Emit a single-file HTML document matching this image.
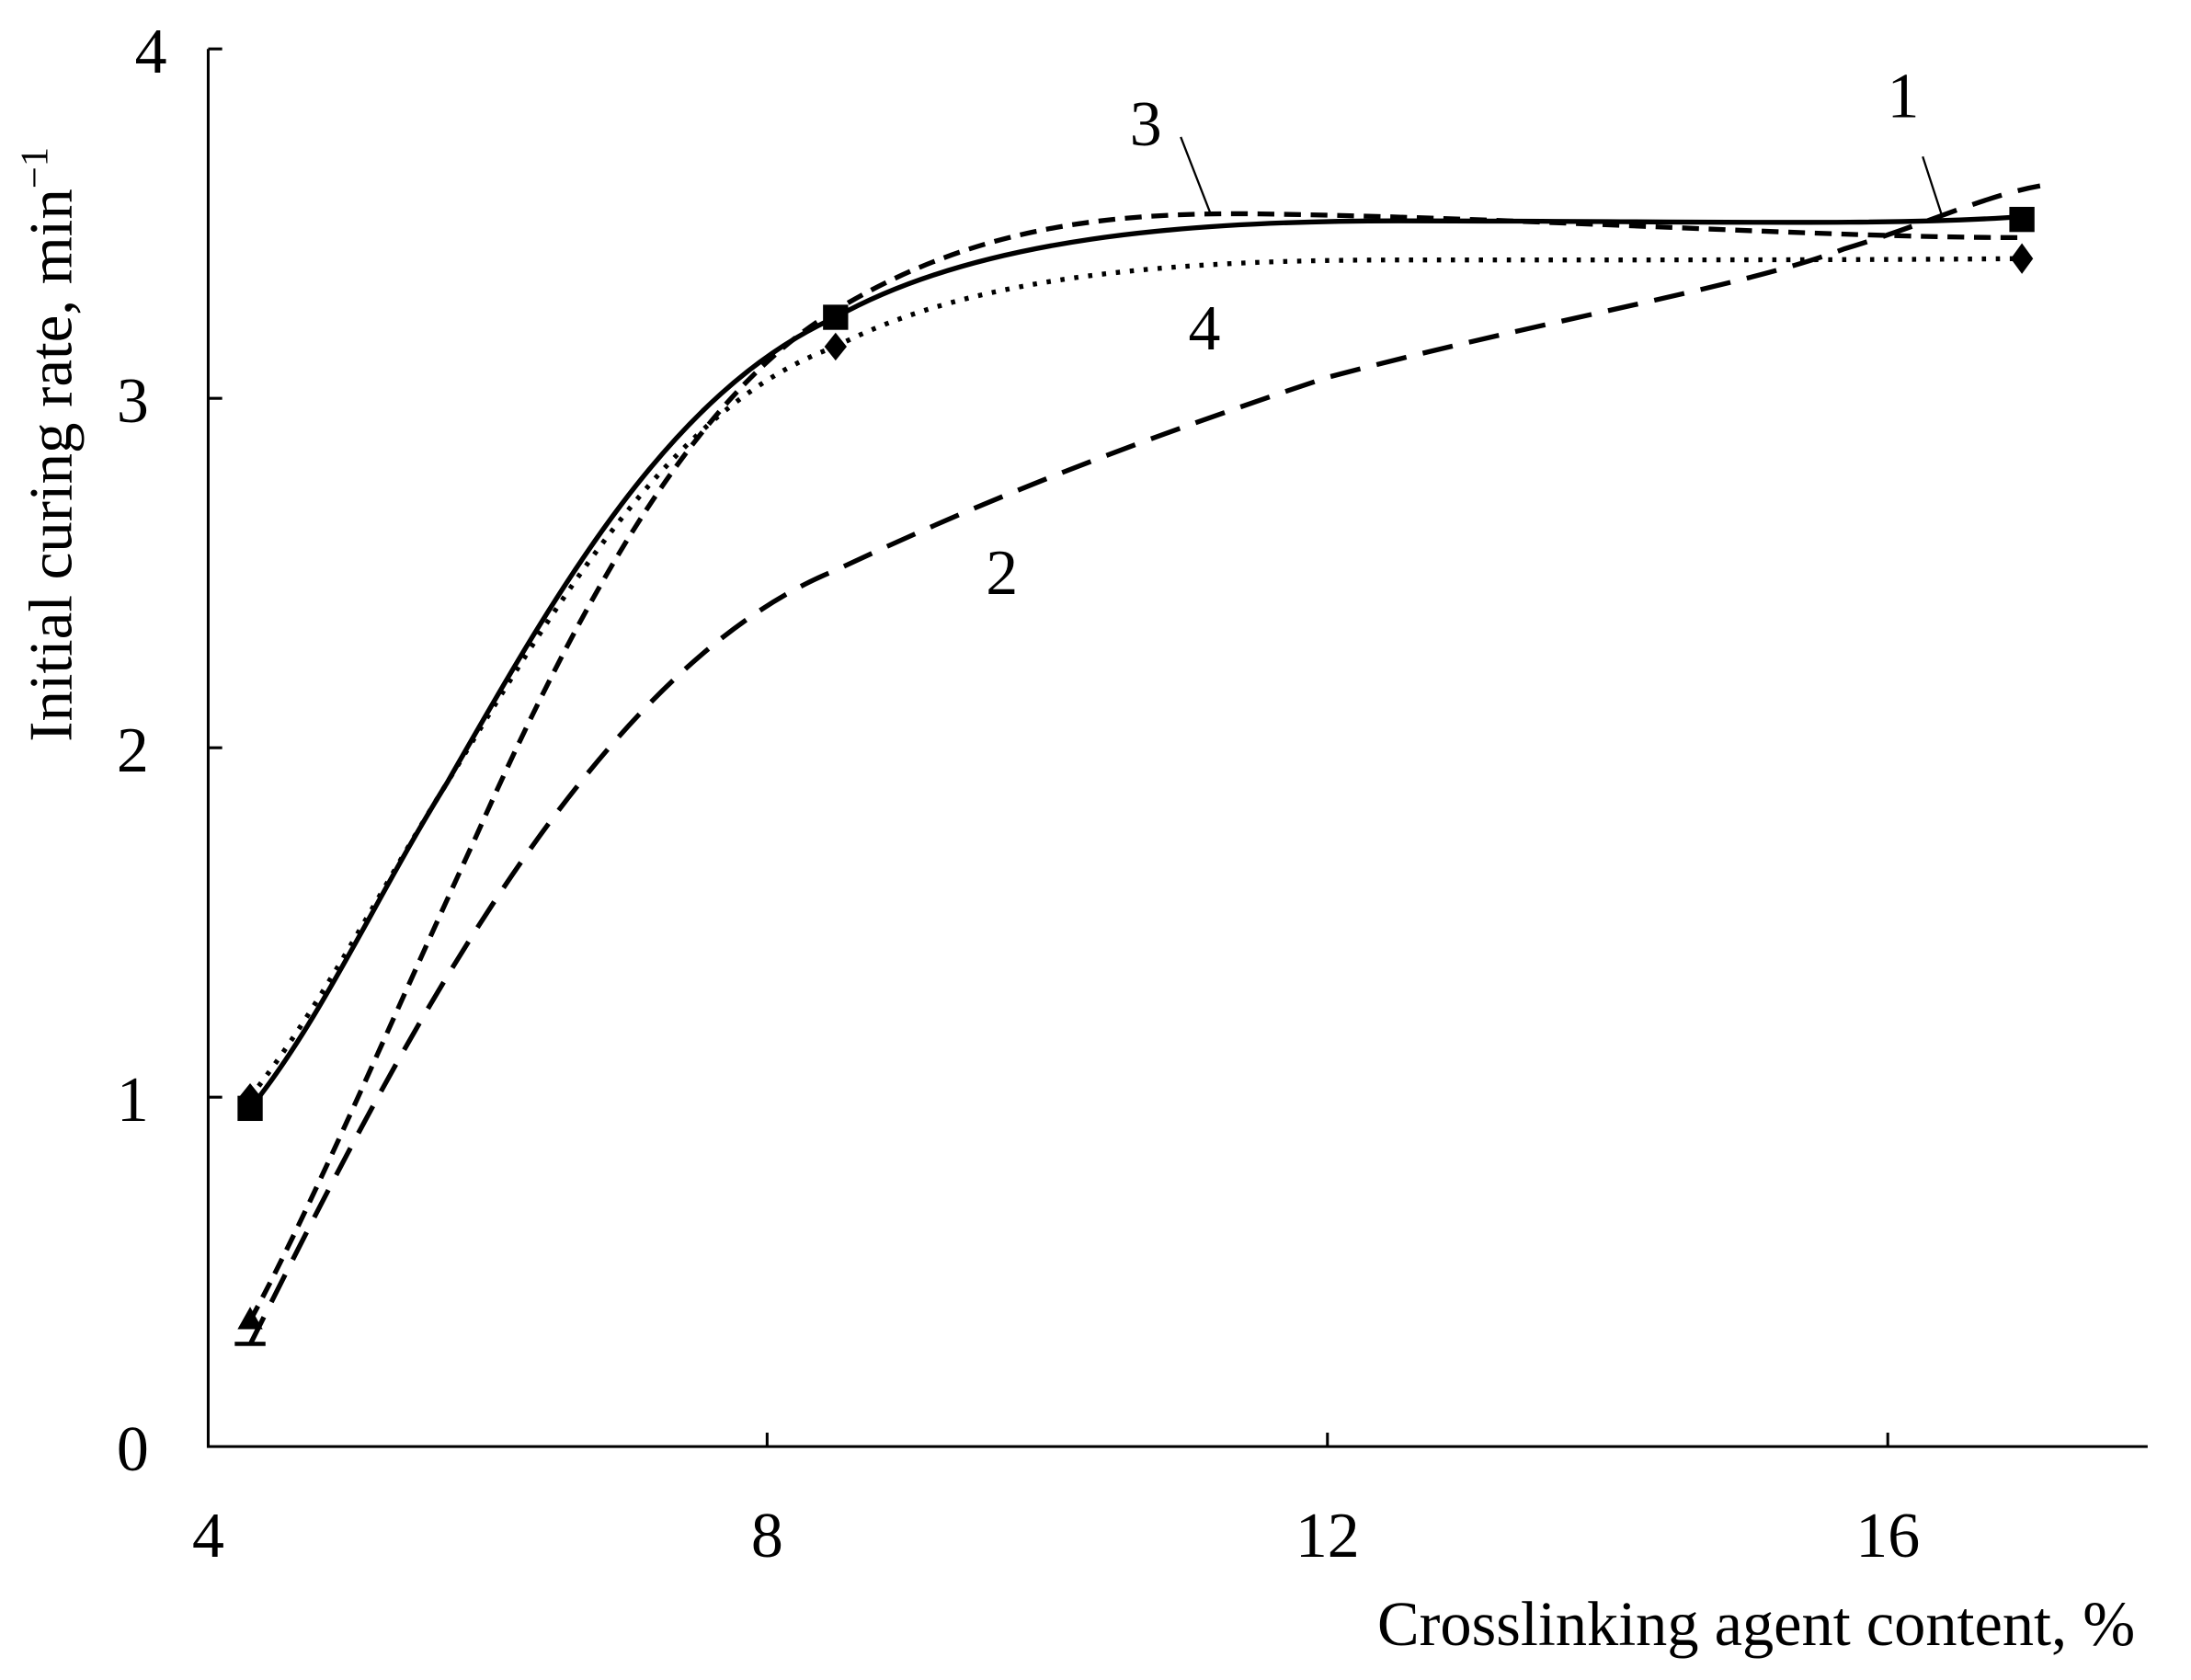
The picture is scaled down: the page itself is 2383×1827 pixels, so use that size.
<!DOCTYPE html>
<html><head><meta charset="utf-8"><style>
html,body{margin:0;padding:0;background:#fff;}
svg{display:block;}
text{font-family:"Liberation Serif",serif;fill:#000;}
</style></head><body>
<svg width="2383" height="1827" viewBox="0 0 1568 1202" preserveAspectRatio="none" xmlns="http://www.w3.org/2000/svg">
<g stroke="#000" stroke-width="2" fill="none">
<path d="M149,35 V1035 H1537"/>
<path d="M149,35 h10 M149,285 h10 M149,535 h10 M149,785 h10"/>
<path d="M549,1035 v-10 M950,1035 v-10 M1351,1035 v-10"/>
</g>
<g font-size="46">
<text x="108" y="52" text-anchor="middle">4</text>
<text x="95" y="302" text-anchor="middle">3</text>
<text x="95" y="552" text-anchor="middle">2</text>
<text x="95" y="802" text-anchor="middle">1</text>
<text x="95" y="1052" text-anchor="middle">0</text>
<text x="149" y="1114" text-anchor="middle">4</text>
<text x="549" y="1114" text-anchor="middle">8</text>
<text x="950" y="1114" text-anchor="middle">12</text>
<text x="1351" y="1114" text-anchor="middle">16</text>
<text x="1528" y="1177" text-anchor="end" font-size="45">Crosslinking agent content, %</text>
<text transform="translate(51,318) rotate(-90)" text-anchor="middle" font-size="44">Initial curing rate, min<tspan dy="-17" font-size="28">−1</tspan></text>
<text x="820" y="104" text-anchor="middle">3</text>
<text x="1362" y="84" text-anchor="middle">1</text>
<text x="862" y="250" text-anchor="middle">4</text>
<text x="717" y="425" text-anchor="middle">2</text>
</g>
<g fill="none" stroke="#000">
<path d="M845,98 L866,152 M1376,112 L1390,155" stroke-width="1.5"/>
<path d="M179,793 C230,730 270,640 320,560 C400,420 480,280 598,227 C700,170 850,158 1000,158 C1200,158 1350,162 1447,155" stroke-width="3.5"/>
<path d="M179,945 C225,860 280,730 340,600 C420,420 500,280 598,222 C700,160 800,152 900,153 C1100,156 1300,170 1447,170" stroke-width="3.5" stroke-dasharray="12,7"/>
<path d="M179,785 C230,720 270,640 320,560 C400,430 480,290 598,248 C700,195 850,186 1000,186 C1200,186 1350,186 1447,185" stroke-width="3.5" stroke-dasharray="3,7"/>
<path d="M179,962 C280,760 420,480 598,408 C700,360 800,320 950,270 C1100,230 1250,205 1320,178 C1380,160 1420,140 1460,133" stroke-width="3.5" stroke-dasharray="22,12"/>
</g>
<g fill="#000">
<rect x="170" y="784" width="18" height="18"/>
<rect x="589" y="218" width="18" height="18"/>
<rect x="1438" y="148" width="18" height="18"/>
<path d="M598,238 l8,10 l-8,10 l-8,-10z"/>
<path d="M1447,174 l8,11 l-8,11 l-8,-11z"/>
<path d="M179,775 l8,10 l-8,10 l-8,-10z"/>
<path d="M179,935 l9,16 h-18z"/>
<rect x="168" y="960" width="22" height="3"/>
</g>
</svg>
</body></html>
